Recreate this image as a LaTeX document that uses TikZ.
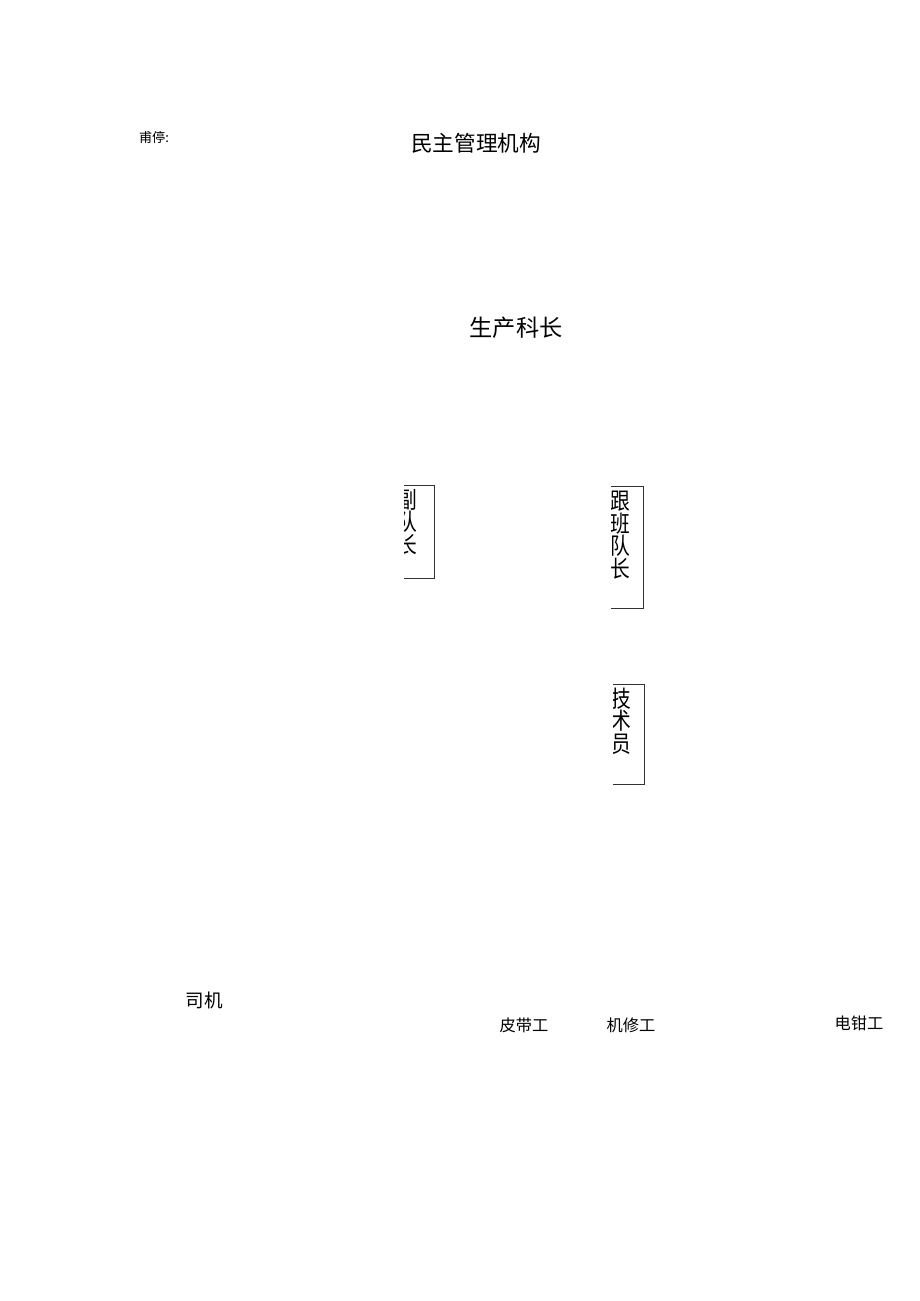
\documentclass[tikz,border=0pt]{standalone}
\usepackage{fontspec}
\newfontfamily\cjk{Noto Sans CJK SC}
\usetikzlibrary{positioning}

\tikzset{
	label/.style={font=\cjk, inner sep=0pt},
	vtext/.style={font=\cjk\fontsize{15pt}{14.6pt}\selectfont, align=center, inner sep=0pt, xscale=0.85, transform shape},
	frame/.style={draw=black!80, line width=0.5pt}
}

\begin{document}
\begin{tikzpicture}[x=0.647pt, y=-0.647pt]

	\useasboundingbox (0, 0) rectangle (920, 1301);

	% heading
	\node[label, font=\cjk\fontsize{8.5pt}{9pt}\selectfont] (note) at (154, 137) {甫停:};
	\node[label, font=\cjk\fontsize{14pt}{16pt}\selectfont] (org) at (476, 143) {民主管理机构};
	\node[label, font=\cjk\fontsize{15pt}{17pt}\selectfont] (chief) at (516, 328) {生产科长};

	% vertical boxes
	\coordinate (F1) at (404, 485);
	\coordinate (G1) at (434, 578);
	\coordinate (F2) at (611, 486);
	\coordinate (G2) at (643, 608);
	\coordinate (F3) at (613, 684);
	\coordinate (G3) at (644, 784);

	\begin{scope}
		\clip (F1) rectangle (G1);
		\node[vtext] (deputy) at (407, 522) {副\\队\\长};
	\end{scope}
	\begin{scope}
		\clip (F2) rectangle (G2);
		\node[vtext] (shift) at (620, 535) {跟\\班\\队\\长};
	\end{scope}
	\begin{scope}
		\clip (F3) rectangle (G3);
		\node[vtext] (tech) at (621, 721) {技\\术\\员};
	\end{scope}

	\draw[frame] (F1) -- (F1 -| G1) -- (G1) -- (G1 -| F1);
	\draw[frame] (F2) -- (F2 -| G2) -- (G2) -- (G2 -| F2);
	\draw[frame] (F3) -- (F3 -| G3) -- (G3) -- (G3 -| F3);

	% workers
	\node[label, font=\cjk\fontsize{12pt}{14pt}\selectfont] (driver) at (204, 1000) {司机};
	\node[label, font=\cjk\fontsize{10.5pt}{12pt}\selectfont] (belt) at (524, 1025) {皮带工};
	\node[label, font=\cjk\fontsize{10.5pt}{12pt}\selectfont] (mech) at (631, 1025) {机修工};
	\node[label, font=\cjk\fontsize{10.5pt}{12pt}\selectfont] (elec) at (859, 1023) {电钳工};

\end{tikzpicture}
\end{document}
